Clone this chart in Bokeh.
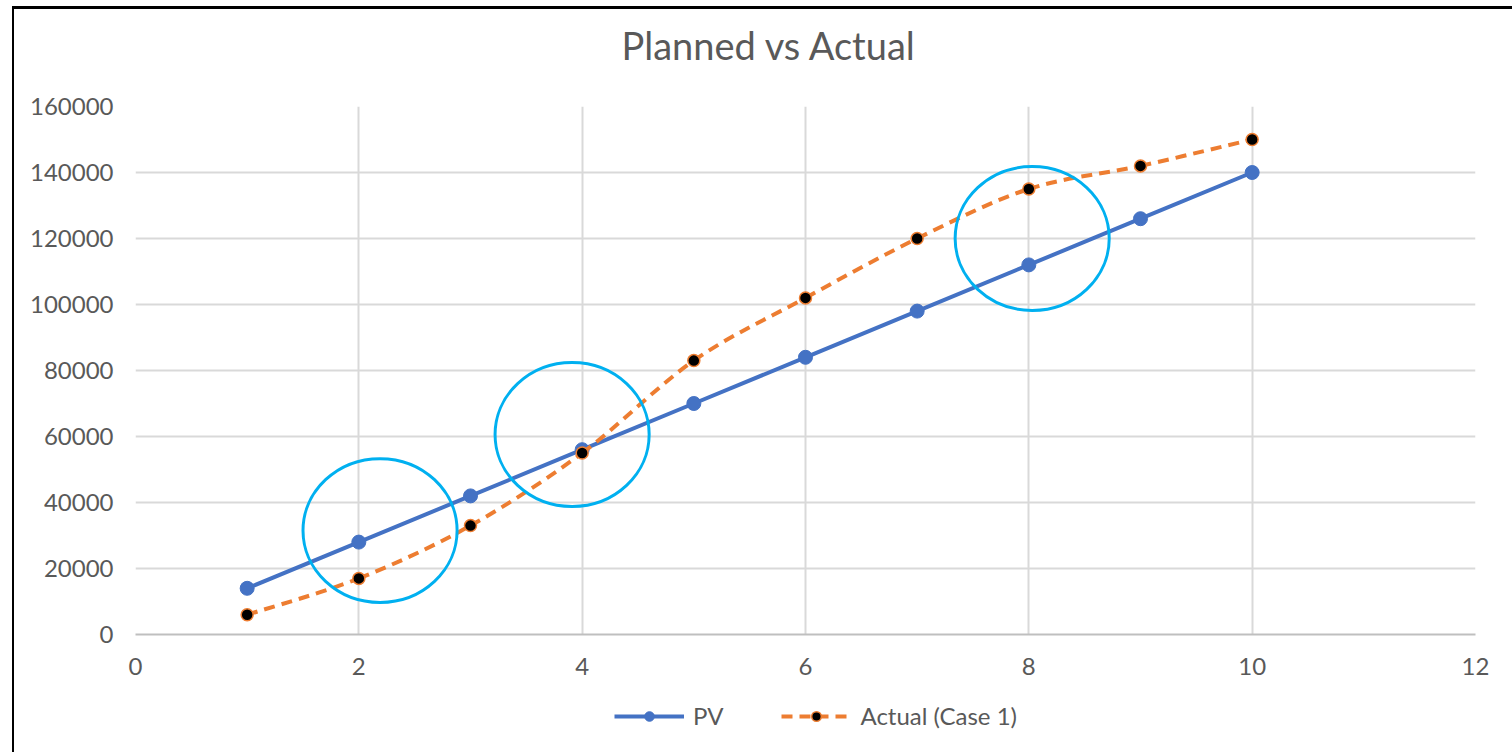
from bokeh.plotting import figure
from bokeh.layouts import column
from bokeh.models import (Range1d, FixedTicker, Legend, LegendItem, Label, InlineStyleSheet)
from bokeh.embed import file_html
from bokeh.resources import INLINE

# ---- data ----
periods = [1, 2, 3, 4, 5, 6, 7, 8, 9, 10]
pv = [14000, 28000, 42000, 56000, 70000, 84000, 98000, 112000, 126000, 140000]
actual = [6000, 17000, 33000, 55000, 83000, 102000, 120000, 135000, 142000, 150000]
x_ticks = [0, 2, 4, 6, 8, 10, 12]
y_ticks = [0, 20000, 40000, 60000, 80000, 100000, 120000, 140000, 160000]
series_names = ["PV", "Actual (Case 1)"]
title_text = "Planned vs Actual"
# highlight circles: centre x, centre y, width, height (data units)
circ_x = [2.19, 3.91, 8.03]
circ_y = [31500, 60600, 120000]
circ_w = [1.38, 1.38, 1.38]
circ_h = [43600, 43600, 43600]

FONT = "Lato"
GREY = "#595959"
PV_C = "#4472C4"
ACT_C = "#ED7D31"
ML, MR = 135, 37          # left / right margins of the plotting frame
W = 1512

def border_sheet(top):
    css = """
:host::after {
  content: "";
  position: absolute;
  left: 12px;
  top: %s;
  right: 0;
  bottom: 0;
  border-left: 2px solid black;
  %s
  pointer-events: none;
}
""" % (("6px", "border-top: 3px solid black;") if top else ("0", ""))
    return InlineStyleSheet(css=css)

def strip(height):
    f = figure(width=W, height=height, output_backend="svg", toolbar_location=None,
               x_axis_location=None, y_axis_location=None,
               x_range=Range1d(0, W - ML - MR), y_range=Range1d(0, height),
               min_border_left=ML, min_border_right=MR, min_border_top=0,
               min_border_bottom=0)
    f.title = None
    f.grid.visible = False
    f.outline_line_color = None
    f.background_fill_color = "white"
    f.border_fill_color = "white"
    return f

# ---- title strip ----
TH = 80
pt = strip(TH)
pt.stylesheets = [border_sheet(True)]
pt.add_layout(Label(x=486, y=TH - 44, text=title_text, text_font=FONT,
                    text_font_size="38px", text_color=GREY,
                    text_align="left", text_baseline="middle"))

# ---- main chart ----
p = figure(width=W, height=610, output_backend="svg", toolbar_location=None,
           x_range=Range1d(0, 12), y_range=Range1d(0, 160000),
           min_border_left=ML, min_border_right=MR, min_border_top=26,
           min_border_bottom=56)
p.stylesheets = [border_sheet(False)]
p.outline_line_color = None
p.background_fill_color = "white"
p.border_fill_color = "white"

for ax in (p.xaxis[0], p.yaxis[0]):
    ax.major_tick_line_color = None
    ax.minor_tick_line_color = None
    ax.major_tick_out = 0
    ax.major_tick_in = 0
    ax.major_label_text_font = FONT
    ax.major_label_text_font_size = "24px"
    ax.major_label_text_color = GREY
p.xaxis.ticker = FixedTicker(ticks=x_ticks)
p.yaxis.ticker = FixedTicker(ticks=y_ticks)
p.yaxis.formatter.use_scientific = False
p.yaxis.axis_line_color = None
p.yaxis.major_label_standoff = 22
p.xaxis.axis_line_color = "#BFBFBF"
p.xaxis.axis_line_width = 2
p.xaxis.major_label_standoff = 23

p.grid.grid_line_color = "#D9D9D9"
p.grid.grid_line_width = 2

# PV series
p.line(periods, pv, line_color=PV_C, line_width=4)
p.scatter(periods, pv, size=14, fill_color=PV_C, line_color=PV_C)

# Actual series: smoothed dashed curve via Bezier segments
xs = [periods[0]] + periods + [periods[-1]]
ys = [actual[0]] + actual + [actual[-1]]
x0, y0, x1, y1, cx0, cy0, cx1, cy1 = [], [], [], [], [], [], [], []
for i in range(1, len(xs) - 2):
    x0.append(xs[i]); y0.append(ys[i])
    x1.append(xs[i + 1]); y1.append(ys[i + 1])
    cx0.append(xs[i] + (xs[i + 1] - xs[i - 1]) / 6)
    cy0.append(ys[i] + (ys[i + 1] - ys[i - 1]) / 6)
    cx1.append(xs[i + 1] - (xs[i + 2] - xs[i]) / 6)
    cy1.append(ys[i + 1] - (ys[i + 2] - ys[i]) / 6)
p.bezier(x0=x0, y0=y0, x1=x1, y1=y1, cx0=cx0, cy0=cy0, cx1=cx1, cy1=cy1,
         line_color=ACT_C, line_width=4, line_dash="11 7")
p.scatter(periods, actual, size=12, fill_color="black",
          line_color=ACT_C, line_width=1.5)

# highlight circles
p.ellipse(x=circ_x, y=circ_y, width=circ_w, height=circ_h,
          fill_color=None, line_color="#00B0F0", line_width=3)

# ---- legend strip ----
pl = strip(62)
pl.stylesheets = [border_sheet(False)]
# legend proxies (kept outside the visible range)
l_pv = pl.line([5000, 5001], [500, 501], line_color=PV_C, line_width=4)
s_pv = pl.scatter([5000], [500], size=14, fill_color=PV_C, line_color=PV_C)
l_act = pl.line([5000, 5001], [500, 501], line_color=ACT_C, line_width=4, line_dash="11 7")
s_act = pl.scatter([5000], [500], size=12, fill_color="black", line_color=ACT_C, line_width=1.5)

legend = Legend(items=[LegendItem(label=series_names[0], renderers=[l_pv, s_pv]),
                       LegendItem(label=series_names[1], renderers=[l_act, s_act])],
                orientation="horizontal", location=(479, 22))
legend.border_line_color = None
legend.background_fill_alpha = 0
legend.label_text_font = FONT
legend.label_text_font_size = "24px"
legend.label_text_color = GREY
legend.glyph_width = 70
legend.glyph_height = 24
legend.label_height = 24
legend.label_standoff = 9
legend.spacing = 58
legend.padding = 0
legend.margin = 0
pl.add_layout(legend)

layout = column(pt, p, pl, spacing=0)
open("out.html", "w").write(file_html(layout, INLINE))
